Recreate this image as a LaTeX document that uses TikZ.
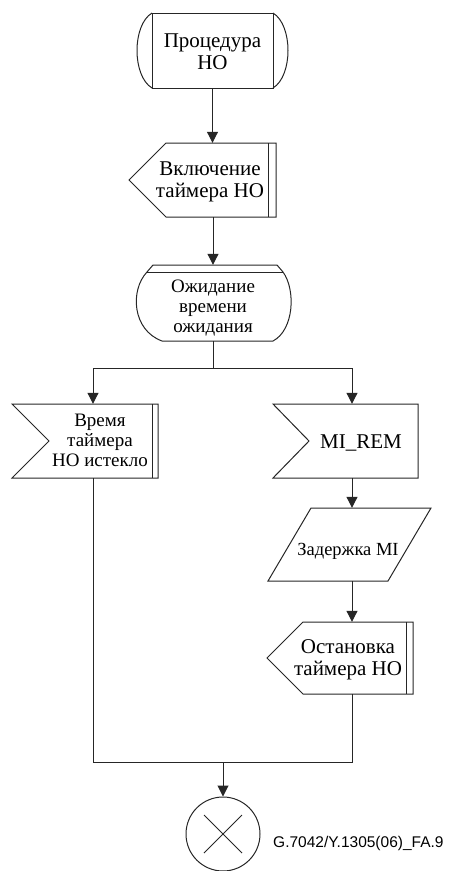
\documentclass[tikz,border=0pt]{standalone}
\usepackage{fontspec}
\setmainfont{Liberation Serif}
\newfontfamily\labfont{Liberation Sans}
\usetikzlibrary{arrows.meta,calc}
\tikzset{
  ln/.style={line width=1pt, draw=black!85},
  arr/.style={ln, -{Triangle[length=11pt,width=11pt]}},
  sbox/.style={draw=none, inner sep=0pt, rectangle},
  txt/.style={inner sep=0pt, align=center, font=\fontsize{21}{22}\selectfont},
  txtb/.style={inner sep=0pt, align=center, font=\fontsize{19}{20}\selectfont},
}
\begin{document}
\begin{tikzpicture}[x=1pt,y=-1pt]
\useasboundingbox (0,0) rectangle (452,871);
% shape anchor boxes
\node[sbox, minimum width=121pt, minimum height=75pt] (s1) at (212.5,50.5) {};
\node[sbox, minimum width=147pt, minimum height=74pt] (s2) at (213,180) {};
\node[sbox, minimum width=150pt, minimum height=76pt] (s3) at (213,303) {};
\node[sbox, minimum width=120pt, minimum height=74pt] (s4) at (93,441) {};
\node[sbox, minimum width=120pt, minimum height=74pt] (s5) at (352,441) {};
\node[sbox, minimum width=120pt, minimum height=73pt] (s6) at (352,544.5) {};
\node[sbox, minimum width=120pt, minimum height=72pt] (s7) at (352,658) {};
\node[ln, draw, circle, minimum size=74pt, inner sep=0pt] (end) at (223,834) {};

% outlines
\draw[ln] (152,13) rectangle (273,88);
\draw[ln] (152,13) .. controls (132,25) and (132,76) .. (152,88);
\draw[ln] (273,13) .. controls (293,25) and (293,76) .. (273,88);

\draw[ln] (129,180) -- (166,143) -- (276,143) -- (276,217) -- (166,217) -- cycle;
\draw[ln] (268,143) -- (268,217);

\draw[ln] (153,265) -- (277,265) -- (283,272) .. controls (296,290) and (294,330) .. (273,341)
  -- (162,341) .. controls (132,330) and (130,290) .. (147,272) -- cycle;
\draw[ln] (147,272) -- (283,272);

\draw[ln] (12,404) -- (158,404) -- (158,478) -- (12,478) -- (49,441) -- cycle;
\draw[ln] (152,404) -- (152,478);

\draw[ln] (273,404) -- (418,404) -- (418,478) -- (273,478) -- (309,441) -- cycle;

\draw[ln] (311,508) -- (431,508) -- (388,581) -- (268,581) -- cycle;

\draw[ln] (267,658) -- (303,622) -- (413,622) -- (413,694) -- (303,694) -- cycle;
\draw[ln] (406,622) -- (406,694);

\draw[ln] ($(end.center)+(-19,-19)$) -- ($(end.center)+(19,19)$);
\draw[ln] ($(end.center)+(-19,19)$) -- ($(end.center)+(19,-19)$);

% texts
\node[txt] (t1) at (212.5,52) {Процедура\\НО};
\node[txt] (t2) at (210,181.5) {Включение\\таймера НО};
\node[txtb] (t3) at (213,308.5) {Ожидание\\времени\\ожидания};
\node[txtb] (t4) at (100,440.5) {Время\\таймера\\НО истекло};
\node[inner sep=0pt, font=\fontsize{21}{24}\selectfont, anchor=base] (t5) at (361,448) {MI\_REM};
\node[inner sep=0pt, font=\fontsize{18.5}{21}\selectfont, anchor=base] (t6) at (348,555) {Задержка MI};
\node[txt] (t7) at (348,659.5) {Остановка\\таймера НО};
\node[inner sep=0pt, font=\labfont\fontsize{15.5}{18}\selectfont, anchor=base west] (lab) at (273,847) {G.7042/Y.1305(06)\_FA.9};

% connectors
\draw[arr] (s1.south) -- (s1.south |- s2.north);
\draw[arr] (s2.south) -- (s3.north);
\coordinate (br) at (213,368);
\draw[ln] (s3.south) -- (br);
\draw[arr] (br) -| (s4.north);
\draw[arr] (br) -| (s5.north);
\draw[arr] (s5.south) -- (s6.north);
\draw[arr] (s6.south) -- (s7.north);
\coordinate (mg) at (223,762);
\draw[ln] (s4.south) |- (mg);
\draw[ln] (s7.south) |- (mg);
\draw[arr] (mg) -- (end.north);
\end{tikzpicture}
\end{document}
